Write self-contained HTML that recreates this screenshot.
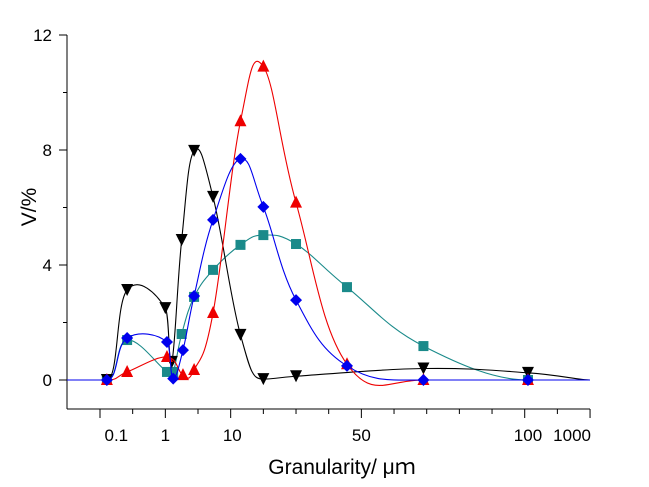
<!DOCTYPE html>
<html><head><meta charset="utf-8"><style>
body{margin:0;background:#fff;}
svg{display:block;font-family:"Liberation Sans",Arial,sans-serif;}
</style></head><body>
<svg id="c" width="649" height="487"></svg>
<script>
// x positions are in axis units (axis index), values in V/%
const blackX=[0.21,0.83,2.0,2.2,2.5,2.88,3.46,4.3,5.0,6.0,9.9,13.1];
const blackY=[0,3.13,2.5,0.63,4.87,7.97,6.37,1.57,0.03,0.13,0.4,0.25];
const redX=[0.21,0.83,2.05,2.54,2.88,3.46,4.3,5.0,6.0,7.56,9.9,13.1];
const redY=[0,0.28,0.8,0.17,0.35,2.33,9.0,10.9,6.17,0.55,0,0];
const blueX=[0.21,0.83,2.05,2.24,2.54,2.88,3.46,4.3,5.0,6.0,7.56,9.9,13.1];
const blueY=[0,1.46,1.32,0.05,1.04,2.92,5.57,7.69,6.02,2.78,0.49,0,0];
const tealX=[0.21,0.83,2.05,2.24,2.5,2.88,3.46,4.3,5.0,6.0,7.56,9.9,13.1];
const tealY=[0,1.39,0.28,0.28,1.6,2.89,3.83,4.7,5.04,4.73,3.23,1.18,0];
const xTickLabels=["0.1","1","10","50","100","1000"];
const xTickLabelPos=[0.5,2.0,4.05,8.0,13.1,14.45];
const yTicks=[0,4,8,12];
const yMinor=[2,6,10];

const NS="http://www.w3.org/2000/svg",svg=document.getElementById('c');
const X=u=>100+u*32.67, Y=v=>380-v*28.75;
function mk(t,a,p){const e=document.createElementNS(NS,t);for(const k in a)e.setAttribute(k,a[k]);(p||svg).appendChild(e);return e;}

let ax=mk('g',{});


mk('line',{x1:67,y1:35,x2:67,y2:409,stroke:'#000','stroke-width':1},ax);
mk('line',{x1:67,y1:409,x2:590,y2:409,stroke:'#000','stroke-width':1},ax);
yTicks.forEach(v=>{mk('line',{x1:59,y1:Y(v),x2:67,y2:Y(v),stroke:'#000'},ax);
 let t=mk('text',{x:52,y:Y(v)+6,'text-anchor':'end','font-size':17},ax);t.textContent=v;
 
 });
yMinor.forEach(v=>mk('line',{x1:63,y1:Y(v),x2:67,y2:Y(v),stroke:'#000'},ax));
for(let i=0;i<=15;i++){const major=[0,2,4,8,13,15].includes(i);mk('line',{x1:X(i),y1:409,x2:X(i),y2:major?418:414,stroke:'#000'},ax);}
xTickLabels.forEach((s,i)=>{let t=mk('text',{x:X(xTickLabelPos[i]),y:441,'text-anchor':'middle','font-size':17},ax);t.textContent=s;
 
 });
let yt=mk('text',{x:0,y:0,transform:'translate(36,207) rotate(-90)','text-anchor':'middle','font-size':21});yt.textContent='V/%';


let xt=mk('text',{x:342,y:474,'text-anchor':'middle','font-size':21});xt.textContent='Granularity/ μｍ';
xt.style.fontFamily='"Liberation Sans","Noto Sans CJK SC",sans-serif';



function path(xs,ys){
 const p=[[67,380,0]].concat(xs.map((u,i)=>[X(u),Y(ys[i]),ys[i]])).concat([[590,380,0]]);
 const k=0.3;
 const tan=p.map((q,i)=>{const a=p[i-1]||q,b=p[i+1]||q;let tx=(b[0]-a[0])*k,ty=(b[1]-a[1])*k;if(q[2]<=0.06)ty=0;return[tx,ty];});
 let d='M'+p[0][0]+','+p[0][1];
 for(let i=0;i<p.length-1;i++){const p1=p[i],p2=p[i+1];
  const s=(p2[0]-p1[0])/Math.max(1e-6,(tan[i][0]+tan[i+1][0])/2)/3*((tan[i][0]+tan[i+1][0])/2)/(p2[0]-p1[0]||1);
  const f1=Math.min(1,(p2[0]-p1[0])/Math.max(1e-6,tan[i][0])) ,f2=Math.min(1,(p2[0]-p1[0])/Math.max(1e-6,tan[i+1][0]));
  d+=` C${p1[0]+tan[i][0]*f1/1.5},${p1[1]+tan[i][1]*f1/1.5} ${p2[0]-tan[i+1][0]*f2/1.5},${p2[1]-tan[i+1][1]*f2/1.5} ${p2[0]},${p2[1]}`;}
 return d;}
function marker(g,kind,x,y,col){
 if(kind==='down')mk('polygon',{points:`${x-6},${y-6} ${x+6},${y-6} ${x},${y+6}`,fill:col},g);
 else if(kind==='up')mk('polygon',{points:`${x-6},${y+5} ${x+6},${y+5} ${x},${y-7}`,fill:col},g);
 else if(kind==='dia')mk('polygon',{points:`${x},${y-6} ${x+6},${y} ${x},${y+6} ${x-6},${y}`,fill:col},g);
 else mk('rect',{x:x-5,y:y-5,width:10,height:10,fill:col},g);}
function series(name,xs,ys,col,kind){
 const g=mk('g',{});
 
 
 mk('path',{d:path(xs,ys),fill:'none',stroke:col,'stroke-width':1.1},g);
 xs.forEach((u,i)=>marker(g,kind,X(u),Y(ys[i]),col));}
series('series-teal',tealX,tealY,'#1a8a8a','sq');
series('series-black',blackX,blackY,'#000','down');
series('series-red',redX,redY,'#ee0000','up');
series('series-blue',blueX,blueY,'#0000ee','dia');
</script>
</body></html>
